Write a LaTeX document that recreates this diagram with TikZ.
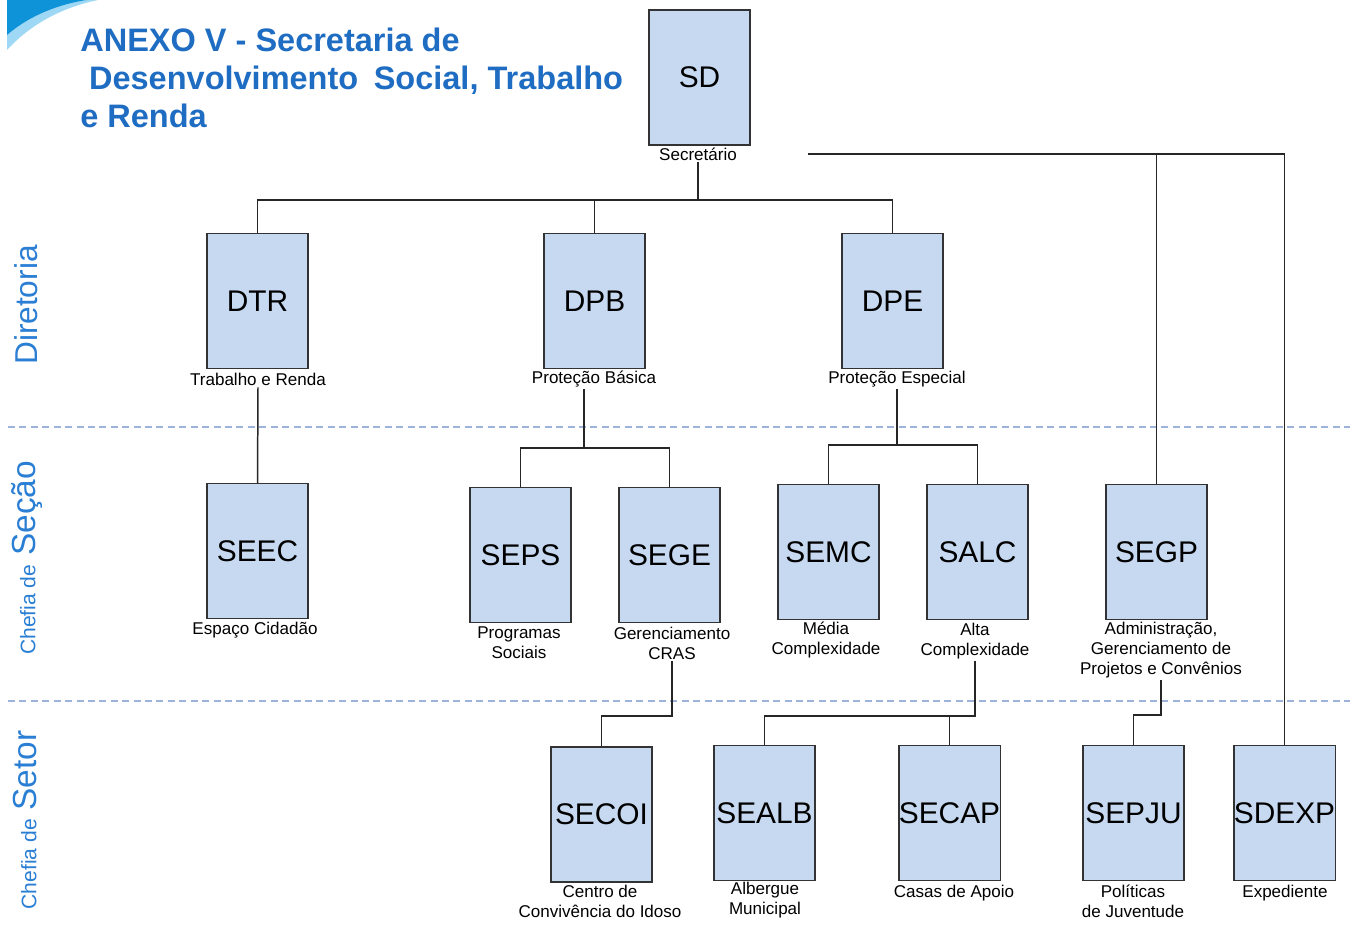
\documentclass[tikz,border=0pt]{standalone}
\usepackage{fontspec}
\setmainfont{Liberation Sans}
\usetikzlibrary{calc}

\definecolor{boxblue}{HTML}{C6D9F1}
\definecolor{edgegray}{HTML}{333333}
\definecolor{tierblue}{HTML}{9DB3DA}
\definecolor{titleblue}{HTML}{1F6DC2}
\definecolor{sideblue}{HTML}{2A7ED3}
\definecolor{swoopdark}{HTML}{0E92D8}
\definecolor{swooplight}{HTML}{9ED8F4}

\begin{document}
\begin{tikzpicture}[x=0.02cm, y=-0.02cm,
    unit/.style={draw=edgegray, line width=0.7pt, fill=boxblue, minimum width=2.02cm, minimum height=2.7cm, inner sep=0pt, font=\fontsize{17}{20}\selectfont},
    lbl/.style={inner sep=1pt, align=center, font=\fontsize{9.7}{11.3}\selectfont},
    link/.style={draw=black!85, line width=0.85pt},
    tier/.style={draw=tierblue, line width=0.7pt, dash pattern=on 4pt off 2.5pt},
    side/.style={rotate=90, text=sideblue, inner sep=0pt, font=\fontsize{18}{20}\selectfont}
]
\useasboundingbox (0,0) rectangle (1354,924);

% Corner swoosh
\fill[swooplight] (7,35) .. controls (30,15) and (60,4) .. (87,0) -- (98,0) .. controls (60,8) and (30,25) .. (7,50) -- cycle;
\fill[swoopdark] (7,0) -- (87,0) .. controls (60,4) and (30,15) .. (7,35) -- cycle;

% Title
\node[anchor=north west, align=left, inner sep=0pt, text=titleblue, font=\bfseries\fontsize{18.5}{21.6}\selectfont] (title) at (80,28)
    {ANEXO V - Secretaria de\\\hspace*{5pt}Desenvolvimento\hspace{0.2em} Social, Trabalho\\e Renda};

% Tier separators
\draw[tier] (8,427) -- (1350,427);
\draw[tier] (8,701) -- (1350,701);

% Tier names
\node[side] (dir) at (26,305) {Diretoria};
\node[side] (sec) at (27,558) {{\fontsize{12}{14}\selectfont Chefia de} {\fontsize{19}{21}\selectfont Seção}};
\node[side] (set) at (25,820) {{\fontsize{12}{14}\selectfont Chefia de} {\fontsize{19}{21}\selectfont Setor}};

% Secretary
\node[unit] (sd) at (699.5,77.5) {SD};
\node[lbl] (sdl) at (698,154) {Secretário};

% Directorates
\node[unit] (dtr) at (257.5,301) {DTR};
\node[unit] (dpb) at (594.5,301) {DPB};
\node[unit] (dpe) at (892.5,301) {DPE};
\node[lbl] (dtrl) at (258,379) {Trabalho e Renda};
\node[lbl] (dpbl) at (594,379) {Proteção Básica};
\node[lbl] (dpel) at (897,379) {Proteção Especial};

% Sections
\node[unit] (seec) at (257.5,551) {SEEC};
\node[unit] (seps) at (520.5,555) {SEPS};
\node[unit] (sege) at (669.5,555) {SEGE};
\node[unit] (semc) at (828.5,552) {SEMC};
\node[unit] (salc) at (977.5,552) {SALC};
\node[unit] (segp) at (1156.5,552) {SEGP};
\node[lbl] (seecl) at (255,630) {Espaço Cidadão};
\node[lbl] (sepsl) at (519,643) {Programas\\Sociais};
\node[lbl] (segel) at (672,643) {Gerenciamento\\CRAS};
\node[lbl] (semcl) at (826,640) {Média\\Complexidade};
\node[lbl] (salcl) at (975,641) {Alta\\Complexidade};
\node[lbl] (segpl) at (1161,650) {Administração,\\Gerenciamento de\\Projetos e Convênios};

% Sectors
\node[unit] (secoi) at (601.5,814.5) {SECOI};
\node[unit] (sealb) at (764.5,813) {SEALB};
\node[unit] (secap) at (949.5,813) {SECAP};
\node[unit] (sepju) at (1133.5,813) {SEPJU};
\node[unit] (sdexp) at (1284.5,813) {SDEXP};
\node[lbl] (secoil) at (600,901) {Centro de\\Convivência do Idoso};
\node[lbl] (sealbl) at (765,900) {Albergue\\Municipal};
\node[lbl] (secapl) at (954,893) {Casas de Apoio};
\node[lbl] (sepjul) at (1133,901) {Políticas\\de Juventude};
\node[lbl] (sdexpl) at (1285,893) {Expediente};

% Junctions
\coordinate (j1) at (698,200);
\coordinate (j2) at (808,154);
\coordinate (j3) at (584,448);
\coordinate (j4) at (897,445);
\coordinate (j5) at (672,716);
\coordinate (j6) at (975,716);
\coordinate (j7) at (1161,715);

% Connectors
\draw[link] (sdl.south) -- (j1);
\draw[link] (dtr.north) |- (j1) -| (dpe.north);
\draw[link] (dpb.north) -- (dpb.north |- j1);
\draw[link] (j2) -| (sdexp.north);
\draw[link] (segp.north) -- (segp.north |- j2);

\draw[link] (dtrl.south) -- (seec.north);
\draw[link] (j3 |- dpbl.south) -- (j3);
\draw[link] (seps.north) |- (j3) -| (sege.north);
\draw[link] (dpel.south) -- (j4);
\draw[link] (semc.north) |- (j4) -| (salc.north);

\draw[link] (segel.south) -- (j5) -| (secoi.north);
\draw[link] (salcl.south) -- (j6) -| (sealb.north);
\draw[link] (secap.north) -- (secap.north |- j6);
\draw[link] (segpl.south) -- (j7) -| (sepju.north);

\end{tikzpicture}
\end{document}
